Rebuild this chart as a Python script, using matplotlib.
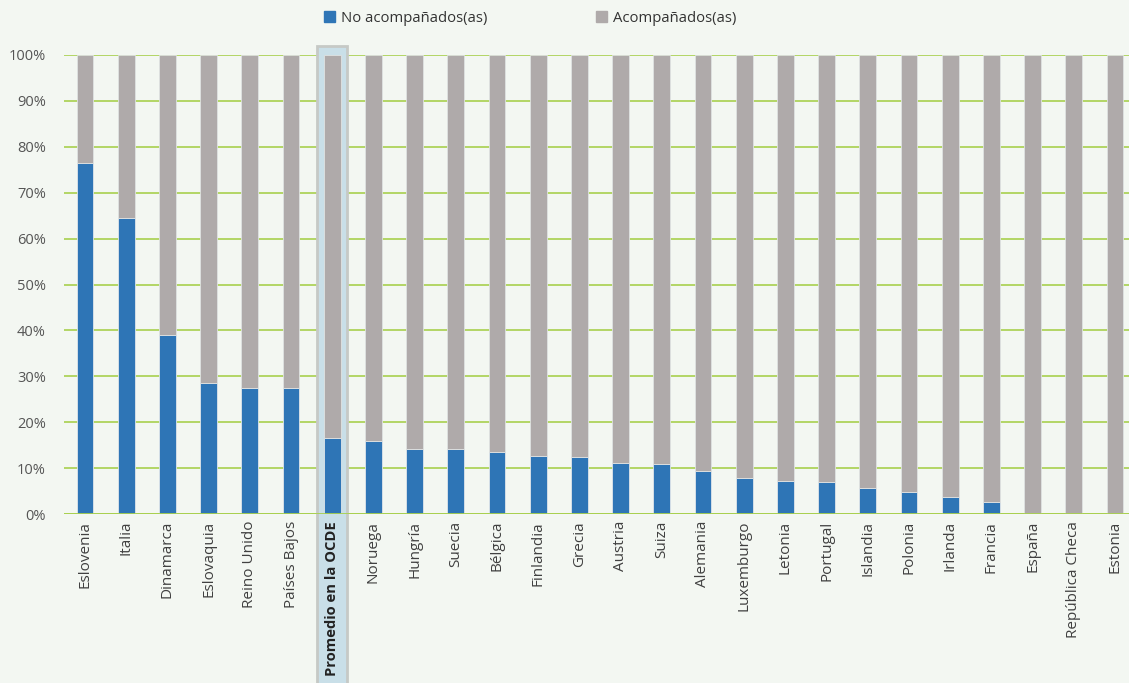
import matplotlib
matplotlib.use("Agg")
import matplotlib.pyplot as plt
from matplotlib.patches import Patch

plt.rcParams['font.family'] = ['Open Sans', 'DejaVu Sans']

countries = ["Eslovenia", "Italia", "Dinamarca", "Eslovaquia", "Reino Unido", "Países Bajos",
             "Promedio en la OCDE", "Noruega", "Hungría", "Suecia", "Bélgica", "Finlandia",
             "Grecia", "Austria", "Suiza", "Alemania", "Luxemburgo", "Letonia", "Portugal",
             "Islandia", "Polonia", "Irlanda", "Francia", "España", "República Checa", "Estonia"]
no_acomp = [76.4, 64.5, 39.0, 28.5, 27.5, 27.5,
            16.6, 16.0, 14.2, 14.2, 13.4, 12.7,
            12.4, 11.2, 10.9, 9.4, 7.8, 7.2, 7.0,
            5.7, 4.8, 3.6, 2.6, 0.0, 0.0, 0.0]
acomp = [100 - v for v in no_acomp]
avg_idx = countries.index("Promedio en la OCDE")

blue = "#2e75b6"
grey = "#afaaaa"
green = "#a8d04e"
bg = "#f3f7f2"

fig = plt.figure(figsize=(11.29, 6.83), dpi=100, facecolor=bg)
ax = fig.add_axes([64 / 1129, 1 - 514 / 683, 1 - 64 / 1129, (514 - 55) / 683])
ax.set_facecolor(bg)

x = list(range(len(countries)))
ax.bar(x, no_acomp, width=0.41, color=blue, edgecolor="#dfe6ea", linewidth=0.6, zorder=2)
ax.bar(x, acomp, width=0.41, bottom=no_acomp, color=grey, edgecolor="#dfe2e2", linewidth=0.6, zorder=2)

# highlight band behind the OECD average
ax.axvspan(avg_idx - 0.36, avg_idx + 0.36, ymin=-0.37, ymax=1.02, facecolor="#c9dfe8",
           edgecolor="#c6c9c6", linewidth=2, clip_on=False, zorder=0.8)

ax.set_xlim(-0.51, 25.34)
ax.set_ylim(0, 100)
ax.set_yticks(range(0, 101, 10))
ax.set_yticklabels([f"{v}%" for v in range(0, 101, 10)], fontsize=10.5, color="#555555")
ax.set_xticks(x)
ax.set_xticklabels(countries, rotation=90, fontsize=11, color="#404040")
lbl = ax.get_xticklabels()[avg_idx]
lbl.set_fontweight("bold")
lbl.set_fontsize(10.6)
lbl.set_color("#222222")

ax.tick_params(axis="both", length=0)
ax.tick_params(axis="y", pad=13)
ax.tick_params(axis="x", pad=5)
ax.yaxis.grid(True, color=green, linewidth=1.2)
ax.set_axisbelow(True)
ax.xaxis.set_zorder(2.5)  # keep country labels above the highlight band
for s in ax.spines.values():
    s.set_visible(False)
ax.axhline(0, color=green, linewidth=2, zorder=3)

handles = [Patch(color=blue, label="No acompañados(as)"), Patch(color=grey, label="Acompañados(as)")]
fig.legend(handles=handles, loc="center", bbox_to_anchor=(530 / 1129, 1 - 18 / 683), ncol=2,
           frameon=False, fontsize=10.7, handlelength=0.75, handleheight=0.75, handletextpad=0.4,
           columnspacing=7.3, labelcolor="#333333")

fig.savefig("out.png", dpi=100, facecolor=bg)
